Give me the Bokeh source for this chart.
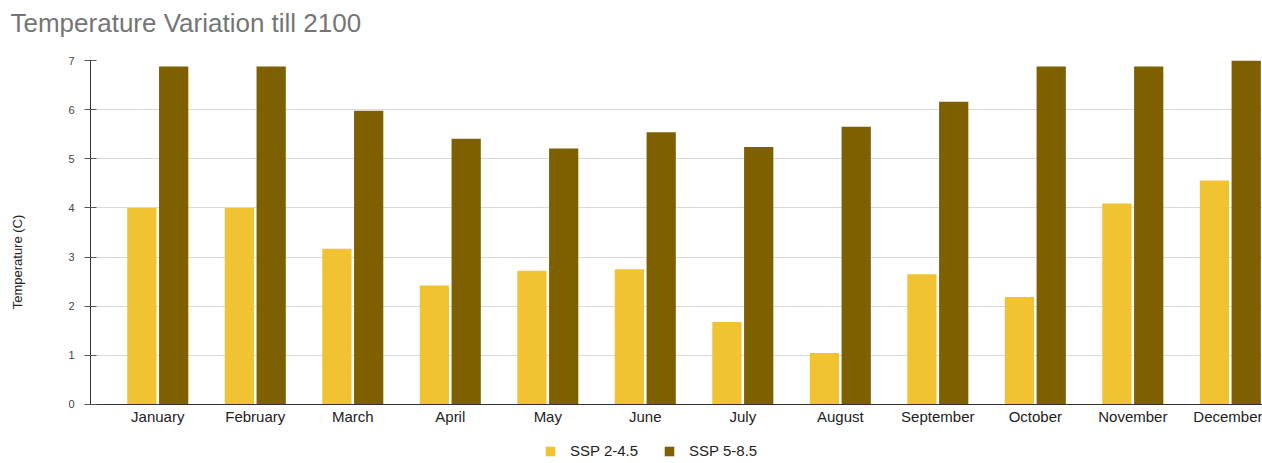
from bokeh.plotting import figure
from bokeh.models import (ColumnDataSource, Range1d, FixedTicker, Legend, LegendItem, Title)
from bokeh.transform import dodge
from bokeh.embed import file_html
from bokeh.resources import INLINE

months = ["January", "February", "March", "April", "May", "June",
          "July", "August", "September", "October", "November", "December"]
ssp245 = [4.0, 4.0, 3.17, 2.42, 2.72, 2.75, 1.68, 1.05, 2.65, 2.19, 4.09, 4.56]
ssp585 = [6.88, 6.88, 5.98, 5.41, 5.21, 5.54, 5.24, 5.65, 6.16, 6.88, 6.88, 7.0]
y_ticks = [0, 1, 2, 3, 4, 5, 6, 7]

idx = list(range(len(months)))
src = ColumnDataSource(dict(idx=idx, month=months, a=ssp245, b=ssp585))

FONT = "Liberation Sans"

p = figure(width=1262, height=463, output_backend="svg", toolbar_location=None,
           title=None,
           x_range=Range1d(-0.69, 11.33), y_range=Range1d(-59 / 49.14, 7),
           min_border_left=90, min_border_right=0, min_border_top=60,
           min_border_bottom=0)
p.outline_line_color = None
p.background_fill_color = "white"
p.border_fill_color = "white"

# thin spacer between the frame and the title
p.add_layout(Title(text=" ", text_font_size="1px", standoff=20), "above")
p.add_layout(Title(text="Temperature Variation till 2100", text_font=FONT,
                   text_font_size="26px", text_font_style="normal",
                   text_color="#757575", align="left", offset=-80, standoff=0),
             "above")

r1 = p.vbar(x=dodge("idx", -0.163, range=p.x_range), top="a", width=0.30,
            source=src, fill_color="#f1c232", line_color=None)
r2 = p.vbar(x=dodge("idx", 0.163, range=p.x_range), top="b", width=0.30,
            source=src, fill_color="#7f6000", line_color=None)

# x axis, fixed at value 0 inside the frame
xa = p.xaxis[0]
xa.fixed_location = 0
xa.ticker = FixedTicker(ticks=idx)
xa.major_label_overrides = {i: m for i, m in zip(idx, months)}
xa.major_tick_in = 0
xa.major_tick_out = 0
xa.minor_tick_line_color = None
xa.axis_line_color = "#333333"
xa.major_label_text_font = FONT
xa.major_label_text_font_size = "15px"
xa.major_label_text_color = "#222222"
xa.major_label_standoff = 4

# y axis
ya = p.yaxis[0]
ya.bounds = (0, 7)
ya.ticker = FixedTicker(ticks=y_ticks)
ya.minor_tick_line_color = None
ya.axis_line_color = "#333333"
ya.major_tick_line_color = "#555555"
ya.major_tick_in = 6
ya.major_tick_out = 6
ya.major_label_text_font = FONT
ya.major_label_text_font_size = "11px"
ya.major_label_text_color = "#444444"
ya.major_label_standoff = 10
ya.axis_label = "Temperature (C)"
ya.axis_label_text_font = FONT
ya.axis_label_text_font_size = "13px"
ya.axis_label_text_font_style = "normal"
ya.axis_label_text_color = "#222222"
ya.axis_label_standoff = 40

p.xgrid.grid_line_color = None
p.ygrid.grid_line_color = "#d9d9d9"
p.ygrid.ticker = FixedTicker(ticks=y_ticks)

legend = Legend(items=[LegendItem(label="SSP 2-4.5", renderers=[r1]),
                       LegendItem(label="SSP 5-8.5", renderers=[r2])],
                orientation="horizontal", location=(454, 4))
legend.padding = 0
legend.margin = 0
legend.spacing = 25
legend.glyph_width = 12
legend.glyph_height = 12
legend.label_height = 12
legend.label_standoff = 14
legend.label_text_font = FONT
legend.label_text_font_size = "15px"
legend.label_text_color = "#222222"
legend.border_line_color = None
legend.background_fill_alpha = 0
p.add_layout(legend, "center")

open("out.html", "w").write(file_html(p, INLINE))
